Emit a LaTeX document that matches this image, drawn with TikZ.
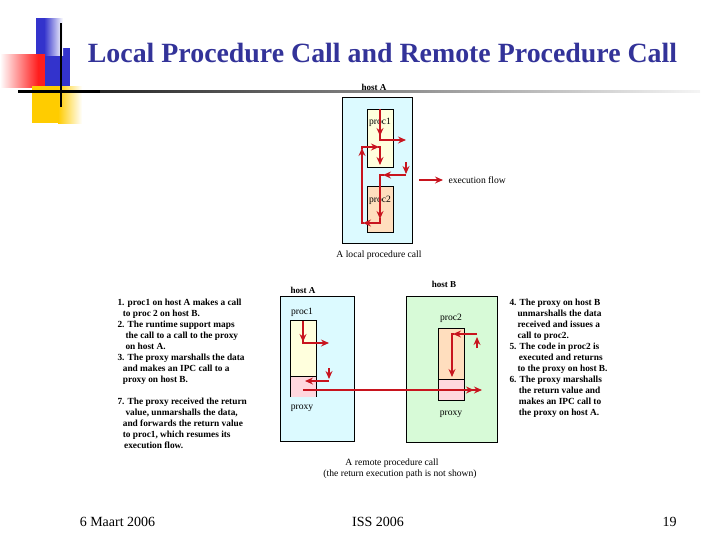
\documentclass[tikz,border=0pt]{standalone}
\usepackage{fontspec}
\setmainfont{Liberation Serif}
\usetikzlibrary{arrows.meta}

\definecolor{titleblue}{RGB}{51,51,153}
\definecolor{decoblue}{RGB}{51,51,204}
\definecolor{decored}{RGB}{255,30,30}
\definecolor{decoyellow}{RGB}{255,204,0}
\definecolor{hostcyan}{RGB}{220,250,255}
\definecolor{hostgreen}{RGB}{215,250,215}
\definecolor{procyellow}{RGB}{255,255,221}
\definecolor{procpeach}{RGB}{255,222,190}
\definecolor{proxypink}{RGB}{255,215,222}
\definecolor{flowred}{RGB}{200,20,30}

\tikzset{every picture/.style={line width=0.75pt}}
\tikzset{
  flow/.style={draw=flowred, line width=0.9pt, -{Stealth[length=6pt,width=5.2pt,inset=2pt]}},
  flowline/.style={draw=flowred, line width=0.9pt},
  lbl/.style={inner sep=0.75pt, font=\fontsize{7.2}{8.25}\selectfont},
  hostlbl/.style={inner sep=0.75pt, font=\fontsize{6.8}{8.25}\selectfont\bfseries},
  steps/.style={anchor=north west, inner sep=0pt, align=left, font=\fontsize{7}{8.25}\selectfont\bfseries},
  foot/.style={inner sep=0.75pt, font=\fontsize{10.5}{12}\selectfont},
}

\begin{document}
\begin{tikzpicture}[
                x=0.75pt,
                y=0.75pt,
                yscale=-1,
                xscale=1,
                line width=0.75pt
            ]
                \useasboundingbox (0,0) rectangle (720,540);

                % corner decoration
                \fill [decoblue] (45,48) rectangle (70,86);
                \fill [decoblue] (36,18) rectangle (44,55);
                \shade [left color=decoblue, right color=white] (44,18) rectangle (63,55);
                \shade [left color=white, right color=decored] (0,54) rectangle (38,87);
                \fill [decored] (38,54) rectangle (45,87);
                \fill [decoyellow] (32,86) rectangle (58,123);
                \shade [left color=decoyellow, right color=white] (58,86) rectangle (82,123);
                \fill [black] (18,90) rectangle (100,92.5);
                \shade [left color=black!85, right color=black!4] (100,90) rectangle (700,92.5);
                \draw [line width=1.5pt] (61,23) -- (61,107);

                \node [font=\fontsize{20.9}{24}\selectfont\bfseries, text=titleblue] (title) at (382.5,53) {Local Procedure Call and Remote Procedure Call};

                % local procedure call
                \node [hostlbl] (hostAtop) at (374,87) {host A};
                \draw [fill=hostcyan] (342,97) rectangle (412,243);
                \draw [fill=procyellow] (367,109) rectangle (393,167);
                \draw [fill=procpeach] (367,186) rectangle (393,232);
                \node [lbl] (proc1top) at (380,122) {proc1};
                \node [lbl] (proc2top) at (380,200) {proc2};

                \draw [flow] (380,109) -- (380,136);
                \draw [flow] (380,134) -- (380,140) -- (406,140);
                \draw [flow] (406,162) -- (406,174);
                \draw [flow] (406,175) -- (383,175);
                \draw [flow] (384,175) -- (380,175) -- (380,219);
                \draw [flow] (380,218) -- (380,223) -- (363,223);
                \draw [flow] (364,223) -- (362,223) -- (362,148);
                \draw [flow] (362,149) -- (362,147) -- (379,147);
                \draw [flow] (378,147) -- (380,147) -- (380,165);

                \draw [flow] (419,180) -- (443,180);
                \node [lbl, anchor=west] (flowlbl) at (447,180) {execution flow};
                \node [lbl] (localcap) at (379,255) {A local procedure call};

                % remote procedure call
                \node [hostlbl] (hostAlbl) at (303,290) {host A};
                \node [hostlbl] (hostBlbl) at (444,284) {host B};
                \draw [fill=hostcyan] (280,296) rectangle (354,441);
                \draw [fill=hostgreen] (406,296) rectangle (497,442);
                \draw [fill=procyellow] (290,320) rectangle (316,376);
                \fill [proxypink] (290,376) rectangle (316,397);
                \draw (290,397) -- (290,376) -- (316,376) -- (316,397);
                \draw [fill=procpeach] (438,328) rectangle (464,379);
                \draw [fill=proxypink] (438,379) rectangle (464,400);
                \node [lbl] (proc1A) at (302,312) {proc1};
                \node [lbl] (proxyA) at (302,408) {proxy};
                \node [lbl] (proc2B) at (451,318) {proc2};
                \node [lbl] (proxyB) at (451,414) {proxy};

                \draw [flow] (303,321) -- (303,342);
                \draw [flow] (303,340) -- (303,343) -- (329,343);
                \draw [flow] (329,368) -- (329,379);
                \draw [flow] (329,381) -- (305,381);
                \coordinate (ipcA) at (303,390);
                \coordinate (ipcB) at (482,390);
                \draw [flowline, -{Stealth[length=6pt,width=5.2pt,inset=2pt] Stealth[length=6pt,width=5.2pt,inset=2pt]}] (ipcA) -- (ipcB);
                \draw [flow] (477,348) -- (477,337);
                \draw [flow] (477,334) -- (453,334);
                \draw [flow] (454,334) -- (452,334) -- (452,377);

                \node [lbl] (remotecap) at (392,463) {A remote procedure call};
                \node [lbl] (remotenote) at (400,474) {(the return execution path is not shown)};

                % step lists
                \node [steps] (stepsA) at (117,299) {1. proc1 on host A makes a call\\\hspace*{4pt}to proc 2 on host B.\\2. The runtime support maps\\\hspace*{6pt}the call to a call to the proxy\\\hspace*{6pt}on host A.\\3. The proxy marshalls the data\\\hspace*{4pt}and makes an IPC call to a\\\hspace*{4pt}proxy on host B.\\[8.25pt]7. The proxy received the return\\\hspace*{6pt}value, unmarshalls the data,\\\hspace*{4pt}and forwards the return value\\\hspace*{4pt}to proc1, which resumes its\\\hspace*{5pt}execution flow.};
                \node [steps] (stepsB) at (509,299) {4. The proxy on host B\\\hspace*{6pt}unmarshalls the data\\\hspace*{6pt}received and issues a\\\hspace*{6pt}call to proc2.\\5. The code in proc2 is\\\hspace*{7pt}executed and returns\\\hspace*{6pt}to the proxy on host B.\\6. The proxy marshalls\\\hspace*{7pt}the return value and\\\hspace*{7pt}makes an IPC call to\\\hspace*{7pt}the proxy on host A.};

                % footer
                \node [foot] (date) at (117.5,522) {6 Maart 2006};
                \node [foot] (course) at (378,522) {ISS 2006};
                \node [foot] (page) at (669.5,522) {19};
            \end{tikzpicture}
\end{document}
